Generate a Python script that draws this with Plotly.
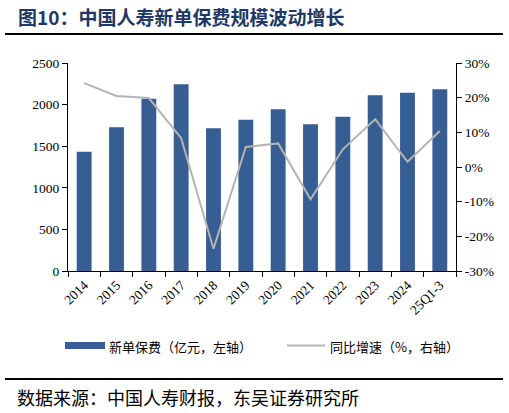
import plotly.graph_objects as go

categories = ["2014", "2015", "2016", "2017", "2018", "2019", "2020", "2021", "2022", "2023", "2024", "25Q1-3"]
premium = [1434, 1727, 2071, 2244, 1715, 1819, 1943, 1763, 1855, 2112, 2143, 2184]
growth = [24.2, 20.5, 19.9, 8.3, -23.6, 5.8, 6.8, -9.3, 5.1, 13.8, 1.5, 10.4]
left_ticks = [0, 500, 1000, 1500, 2000, 2500]
right_ticks = [-30, -20, -10, 0, 10, 20, 30]

W, H = 509, 413
L, R, T, B = 68, 456, 63, 271

def px(x):
    return (x - L) / (R - L)

def py(y):
    return (B - y) / (B - T)

BAR = "#375E93"
LINE = "#B4B4B4"
SERIF = "Liberation Serif, Times New Roman, serif"
CJK = "Noto Sans CJK SC"
TICKSIZE = 13.5

fig = go.Figure()
fig.add_trace(go.Bar(x=categories, y=premium, marker_color=BAR, marker_line_width=0,
                     name="新单保费（亿元，左轴）", showlegend=False))
fig.add_trace(go.Scatter(x=categories, y=growth, yaxis="y2", mode="lines",
                         line=dict(color=LINE, width=2), name="同比增速（%，右轴）", showlegend=False))

fig.update_layout(
    width=W, height=H,
    margin=dict(l=L, r=W - R, t=T, b=H - B, pad=0),
    paper_bgcolor="white", plot_bgcolor="white",
    bargap=0.54,
    font=dict(family=SERIF, size=12, color="black"),
    xaxis=dict(type="category", tickangle=-45, showline=True, linecolor="black", linewidth=1,
               ticks="outside", ticklen=5, tickcolor="black", tickson="boundaries",
               showgrid=False, tickfont=dict(family=SERIF, size=TICKSIZE)),
    yaxis=dict(range=[0, 2500], tickvals=left_ticks, showline=True, linecolor="black", linewidth=1,
               ticks="outside", ticklen=5, tickcolor="black", showgrid=False, zeroline=False,
               tickfont=dict(family=SERIF, size=TICKSIZE)),
    yaxis2=dict(range=[-30, 30], tickvals=right_ticks, ticktext=[f"{v}%" for v in right_ticks],
                overlaying="y", side="right", showline=True, linecolor="black", linewidth=1,
                ticks="outside", ticklen=5, tickcolor="black", showgrid=False, zeroline=False,
                tickfont=dict(family=SERIF, size=TICKSIZE)),
)

shapes = [
    dict(type="line", xref="paper", yref="paper", x0=px(5), x1=px(503), y0=py(34), y1=py(34),
         line=dict(color="black", width=2)),
    dict(type="line", xref="paper", yref="paper", x0=px(5), x1=px(503), y0=py(379), y1=py(379),
         line=dict(color="black", width=2)),
    dict(type="rect", xref="paper", yref="paper", x0=px(65), x1=px(105), y0=py(349), y1=py(342),
         fillcolor=BAR, line=dict(width=0)),
    dict(type="line", xref="paper", yref="paper", x0=px(287), x1=px(325), y0=py(345.5), y1=py(345.5),
         line=dict(color=LINE, width=2)),
]
fig.update_layout(shapes=shapes)

annotations = [
    dict(text="<b>图10：中国人寿新单保费规模波动增长</b>", xref="paper", yref="paper",
         x=px(16), y=py(17), xanchor="left", yanchor="middle", showarrow=False,
         font=dict(family=CJK, size=19, color="#1F3864")),
    dict(text="新单保费（亿元，左轴）", xref="paper", yref="paper", x=px(107), y=py(346),
         xanchor="left", yanchor="middle", showarrow=False, font=dict(family=CJK, size=13, color="black")),
    dict(text="同比增速（%，右轴）", xref="paper", yref="paper", x=px(328), y=py(346),
         xanchor="left", yanchor="middle", showarrow=False, font=dict(family=CJK, size=13, color="black")),
    dict(text="数据来源：中国人寿财报，东吴证券研究所", xref="paper", yref="paper", x=px(15), y=py(397),
         xanchor="left", yanchor="middle", showarrow=False, font=dict(family=CJK, size=18, color="black")),
]
fig.update_layout(annotations=annotations)

fig.write_html("out.html", config={"displayModeBar": False},
               post_script="document.body.style.margin='0';document.body.style.padding='0';")
